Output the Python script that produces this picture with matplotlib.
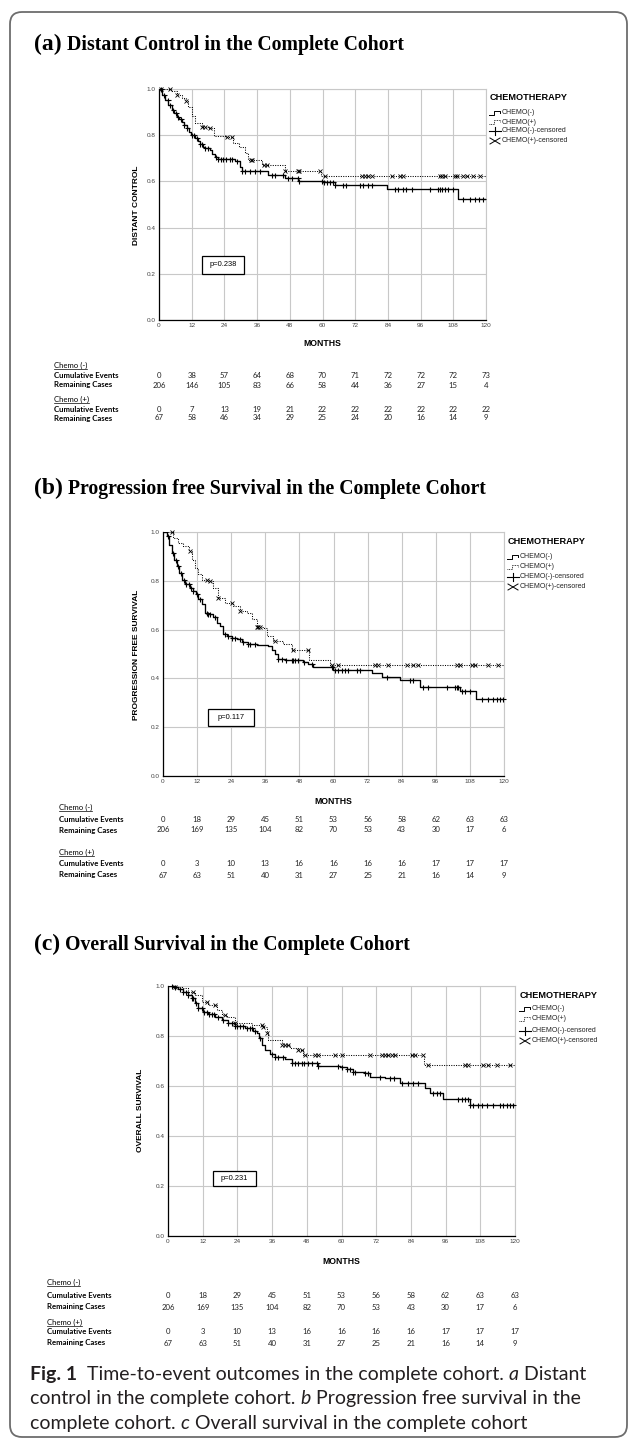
import numpy as np
import matplotlib.pyplot as plt
from matplotlib.patches import FancyBboxPatch, Rectangle
from matplotlib.font_manager import FontProperties
from matplotlib.transforms import blended_transform_factory

W, H = 629, 1441

months = [0, 12, 24, 36, 48, 60, 72, 84, 96, 108, 120]
surv_ticks = [0.0, 0.2, 0.4, 0.6, 0.8, 1.0]

# ---------------------------------------------------------------
# (a) distant control
# ---------------------------------------------------------------
a_neg_t = [0, 1.2, 2.2, 3.4, 4.6, 5.5, 6.5, 7.4, 8.3, 9.2, 10.2, 11.0, 11.7, 13.2, 14.2, 15.0, 16.0,
           16.9, 18.7, 19.6, 20.5, 21.8, 27.9, 29.7, 30.6, 40.1, 46.2, 51.1, 59.9, 64.6, 83.6, 109.8, 120]
a_neg_s = [1.0, 0.975, 0.952, 0.93, 0.909, 0.895, 0.88, 0.868, 0.858, 0.845, 0.83, 0.815, 0.80, 0.789, 0.775,
           0.76, 0.75, 0.743, 0.736, 0.72, 0.707, 0.697, 0.688, 0.664, 0.645, 0.627, 0.613, 0.603, 0.596,
           0.584, 0.565, 0.522, 0.522]
a_pos_t = [0, 4.5, 6.5, 8.5, 9.8, 10.8, 12.0, 13.2, 15.7, 18.1, 20.0, 24.2, 27.3, 29.5, 31.6, 32.8, 37.7,
           46.2, 59.3, 120]
a_pos_s = [1.0, 0.99, 0.975, 0.962, 0.95, 0.923, 0.885, 0.851, 0.837, 0.83, 0.798, 0.793, 0.765, 0.75, 0.721,
           0.692, 0.671, 0.645, 0.625, 0.625]
a_neg_cens = [0.7, 2.0, 3.2, 4.0, 5.3, 6.1, 7.1, 8.1, 9.3, 10.4, 12.0, 13.0, 13.8, 15.0, 15.7, 16.9, 17.9,
              20.9, 21.8, 22.6, 23.6, 24.5, 26.1, 26.9, 28.5, 30.6, 31.6, 33.4, 35.2, 37.1, 41.3, 42.6, 45.6,
              47.5, 48.7, 50.9, 51.4, 59.7, 60.7, 61.5, 62.8, 64.0, 64.6, 67.6, 68.5, 73.8, 75.0, 76.8, 78.0,
              86.6, 87.8, 89.7, 90.5, 92.7, 99.4, 102.3, 103.1, 104.0, 105.0, 105.9, 108.0, 111.7, 114.1,
              116.0, 117.4, 119.0]
a_pos_cens = [0.7, 4.0, 6.5, 9.8, 15.7, 16.9, 18.7, 24.8, 26.9, 33.8, 34.3, 38.7, 39.5, 46.2, 50.9, 51.4,
              59.1, 61.0, 74.4, 75.6, 76.8, 78.0, 85.4, 88.4, 89.7, 103.1, 104.0, 105.0, 108.6, 109.2,
              111.7, 112.9, 115.4, 117.8]
a_neg_events = [0, 38, 57, 64, 68, 70, 71, 72, 72, 72, 73]
a_neg_remaining = [206, 146, 105, 83, 66, 58, 44, 36, 27, 15, 4]
a_pos_events = [0, 7, 13, 19, 21, 22, 22, 22, 22, 22, 22]
a_pos_remaining = [67, 58, 46, 34, 29, 25, 24, 20, 16, 14, 9]

# ---------------------------------------------------------------
# (b) progression free survival
# ---------------------------------------------------------------
b_neg_t = [0, 1.3, 2.2, 3.0, 3.9, 4.8, 5.8, 6.6, 7.7, 9.5, 10.7, 11.6, 12.4, 13.6, 14.8, 16.0, 17.7, 18.9,
           20.1, 21.2, 22.4, 24.2, 25.9, 27.7, 30.0, 33.0, 37.1, 38.2, 39.4, 40.6, 42.9, 49.4, 51.1, 52.7,
           59.9, 73.4, 77.0, 83.4, 90.4, 104.5, 110.1, 120]
b_neg_s = [1.0, 0.982, 0.948, 0.914, 0.887, 0.86, 0.833, 0.805, 0.785, 0.769, 0.758, 0.744, 0.724, 0.703,
           0.669, 0.663, 0.652, 0.629, 0.615, 0.584, 0.574, 0.567, 0.56, 0.551, 0.543, 0.537, 0.533, 0.516,
           0.499, 0.479, 0.475, 0.469, 0.459, 0.448, 0.434, 0.424, 0.407, 0.393, 0.366, 0.347, 0.316, 0.316]
b_pos_t = [0, 3.6, 5.4, 7.2, 9.0, 10.1, 11.3, 12.4, 13.6, 16.0, 17.7, 19.5, 21.8, 24.8, 27.1, 29.4, 31.2,
           33.0, 35.3, 36.5, 38.8, 42.3, 45.3, 51.5, 58.6, 120]
b_pos_s = [1.0, 0.976, 0.955, 0.941, 0.921, 0.887, 0.853, 0.826, 0.805, 0.799, 0.771, 0.731, 0.71, 0.697,
           0.676, 0.669, 0.642, 0.61, 0.608, 0.574, 0.554, 0.54, 0.517, 0.476, 0.456, 0.456]
b_neg_cens = [1.9, 3.6, 4.6, 5.4, 6.2, 7.4, 8.1, 9.3, 9.7, 10.7, 11.9, 13.0, 15.4, 16.0, 16.5, 18.3, 21.8,
              23.0, 24.2, 25.3, 27.1, 28.3, 30.0, 30.6, 32.4, 40.6, 41.8, 43.3, 45.3, 45.9, 46.5, 47.6,
              49.6, 52.3, 59.4, 60.5, 61.7, 62.9, 64.0, 65.2, 68.2, 69.3, 78.7, 86.9, 88.1, 91.6, 93.4,
              99.8, 102.8, 103.3, 103.9, 105.1, 106.3, 108.0, 112.1, 114.5, 116.2, 117.4, 118.6, 119.8]
b_pos_cens = [3.0, 9.5, 15.4, 16.5, 19.5, 24.2, 27.1, 33.0, 33.5, 34.1, 39.4, 45.9, 51.1, 59.4, 61.7,
              74.6, 75.8, 79.3, 85.7, 88.1, 89.9, 103.3, 104.5, 108.6, 109.8, 114.5, 118.0]
b_neg_events = [0, 18, 29, 45, 51, 53, 56, 58, 62, 63, 63]
b_neg_remaining = [206, 169, 135, 104, 82, 70, 53, 43, 30, 17, 6]
b_pos_events = [0, 3, 10, 13, 16, 16, 16, 16, 17, 17, 17]
b_pos_remaining = [67, 63, 51, 40, 31, 27, 25, 21, 16, 14, 9]

# ---------------------------------------------------------------
# (c) overall survival
# ---------------------------------------------------------------
c_neg_t = [0, 1.8, 3.6, 5.3, 7.0, 8.2, 9.3, 10.5, 12.2, 13.9, 16.3, 18.6, 20.9, 23.2, 26.6, 29.5, 30.7,
           31.5, 32.4, 33.5, 35.3, 37.0, 40.5, 42.8, 52.0, 59.5, 61.8, 64.1, 68.1, 69.9, 75.0, 80.2, 88.9,
           90.6, 95.2, 104.4, 120]
c_neg_s = [1.0, 0.995, 0.987, 0.977, 0.964, 0.951, 0.931, 0.911, 0.897, 0.888, 0.877, 0.864, 0.851, 0.84,
           0.831, 0.822, 0.811, 0.791, 0.764, 0.744, 0.728, 0.718, 0.707, 0.691, 0.682, 0.675, 0.667, 0.658,
           0.651, 0.638, 0.631, 0.614, 0.591, 0.571, 0.547, 0.525, 0.525]
c_pos_t = [0, 2.4, 4.7, 7.0, 9.3, 11.6, 13.9, 16.8, 18.6, 20.3, 23.2, 28.9, 32.9, 34.1, 34.7, 39.3, 42.2,
           45.1, 46.8, 88.6, 120]
c_pos_s = [1.0, 0.997, 0.991, 0.977, 0.964, 0.937, 0.924, 0.904, 0.884, 0.877, 0.854, 0.844, 0.838, 0.811,
           0.784, 0.764, 0.751, 0.744, 0.724, 0.684, 0.684]
c_neg_cens = [1.3, 2.4, 4.1, 5.3, 6.1, 7.0, 8.2, 8.8, 9.6, 10.5, 11.6, 12.6, 13.4, 14.2, 15.1, 16.0, 17.4,
              19.1, 20.9, 22.0, 23.2, 23.7, 24.9, 26.1, 27.2, 28.4, 29.2, 30.1, 31.8, 35.9, 37.0, 38.2,
              39.9, 43.0, 43.9, 45.1, 46.2, 47.1, 48.5, 49.7, 51.4, 52.0, 58.9, 60.1, 61.8, 62.9, 64.1,
              64.7, 68.1, 69.3, 73.3, 76.8, 78.0, 80.8, 83.1, 84.8, 86.6, 91.8, 92.9, 94.1, 100.4, 101.6,
              102.7, 103.6, 104.4, 105.6, 107.3, 108.5, 110.2, 112.5, 114.8, 116.0, 117.1, 118.3, 119.4]
c_pos_cens = [2.4, 8.8, 13.4, 16.3, 19.7, 23.2, 32.4, 33.0, 34.1, 39.3, 40.5, 41.6, 45.1, 46.2, 47.4,
              50.8, 52.0, 57.8, 60.1, 69.9, 73.9, 75.0, 76.2, 77.3, 78.5, 84.3, 85.4, 88.3, 90.0, 102.7,
              103.9, 109.0, 110.8, 113.7, 118.3]
c_neg_events = [0, 18, 29, 45, 51, 53, 56, 58, 62, 63, 63]
c_neg_remaining = [206, 169, 135, 104, 82, 70, 53, 43, 30, 17, 6]
c_pos_events = [0, 3, 10, 13, 16, 16, 16, 16, 17, 17, 17]
c_pos_remaining = [67, 63, 51, 40, 31, 27, 25, 21, 16, 14, 9]

panel_titles = ["Distant Control in the Complete Cohort",
                "Progression free Survival in the Complete Cohort",
                "Overall Survival in the Complete Cohort"]
panel_letters = ["(a)", "(b)", "(c)"]
y_labels = ["DISTANT CONTROL", "PROGRESSION FREE SURVIVAL", "OVERALL SURVIVAL"]
p_values = ["p=0.238", "p=0.117", "p=0.231"]
legend_items = ["CHEMO(-)", "CHEMO(+)", "CHEMO(-)-censored", "CHEMO(+)-censored"]

# ---------------------------------------------------------------
# layout in pixels of the 629 x 1441 picture
# ---------------------------------------------------------------
layout = [
    dict(box=(159, 89, 486, 320), title_y=50, ylab=(137, 205), months_y=344,
         legend=(489, 98, [113, 122, 131, 141]), pbox=(202, 256, 42, 18),
         tab_x=54, rows=[365, 376, 385, 399, 409, 418]),
    dict(box=(163, 532, 504, 776), title_y=494, ylab=(137, 655), months_y=801,
         legend=(507, 542, [557, 567, 577, 587]), pbox=(208, 709, 46, 17),
         tab_x=59, rows=[807, 819, 830, 852, 863, 875]),
    dict(box=(168, 986, 515, 1236), title_y=950, ylab=(140, 1110), months_y=1262,
         legend=(519, 995, [1009, 1019, 1031, 1041]), pbox=(213, 1171, 43, 15),
         tab_x=47, rows=[1282, 1295, 1307, 1322, 1332, 1343]),
]

curves = [
    (a_neg_t, a_neg_s, a_pos_t, a_pos_s, a_neg_cens, a_pos_cens,
     a_neg_events, a_neg_remaining, a_pos_events, a_pos_remaining),
    (b_neg_t, b_neg_s, b_pos_t, b_pos_s, b_neg_cens, b_pos_cens,
     b_neg_events, b_neg_remaining, b_pos_events, b_pos_remaining),
    (c_neg_t, c_neg_s, c_pos_t, c_pos_s, c_neg_cens, c_pos_cens,
     c_neg_events, c_neg_remaining, c_pos_events, c_pos_remaining),
]

SANS = "Liberation Sans"
SERIF = "Liberation Serif"
TAB = "Lato"
CAP = "Lato"
INK = "#231f20"


def step_at(times, surv, when):
    # survival value of the step curve at the given censoring times
    idx = np.searchsorted(times, when, side="right") - 1
    return np.asarray(surv)[idx]


def text_w(renderer, s, prop):
    w1, _, _ = renderer.get_text_width_height_descent("|" + s + "|", prop, ismath=False)
    w0, _, _ = renderer.get_text_width_height_descent("||", prop, ismath=False)
    return w1 - w0


fig = plt.figure(figsize=(W / 100, H / 100), dpi=100)
cv = fig.add_axes([0, 0, 1, 1])
cv.set_xlim(0, W)
cv.set_ylim(H, 0)
cv.axis("off")
cv.set_zorder(5)
renderer = fig.canvas.get_renderer()


def put_runs(x, y, parts):
    for txt, prop, color in parts:
        cv.text(x, y, txt, fontproperties=prop, color=color, ha="left", va="baseline")
        x += text_w(renderer, txt, prop)


# outer rounded frame
cv.add_patch(FancyBboxPatch((10, 12), 617, 1425, boxstyle="round,pad=0,rounding_size=12",
                            ec="#6d6d6d", fc="none", lw=1.3))

for k, (lay, cur) in enumerate(zip(layout, curves)):
    neg_t, neg_s, pos_t, pos_s, neg_c, pos_c, neg_ev, neg_rem, pos_ev, pos_rem = cur
    l, t, r, b = lay["box"]
    ax = fig.add_axes([l / W, 1 - b / H, (r - l) / W, (b - t) / H])

    ax.step(neg_t, neg_s, where="post", color="black", lw=0.95, zorder=3)
    ax.step(pos_t, pos_s, where="post", color="black", lw=0.75, ls=(0, (1, 1.3)), zorder=3)
    ax.plot(neg_c, step_at(neg_t, neg_s, neg_c), ls="none", marker="+", ms=3.6, mew=0.8,
            color="black", zorder=4, clip_on=False)
    ax.plot(pos_c, step_at(pos_t, pos_s, pos_c), ls="none", marker="x", ms=2.3, mew=0.6,
            color="black", zorder=4, clip_on=False)

    ax.set_xlim(0, 120)
    ax.set_ylim(0, 1)
    ax.set_xticks(months)
    ax.set_yticks(surv_ticks)
    ax.set_yticklabels(["%.1f" % v for v in surv_ticks])
    ax.tick_params(length=0, pad=2.5, labelsize=4.6, labelcolor="#444444")
    for lab in ax.get_xticklabels() + ax.get_yticklabels():
        lab.set_family(SANS)
    ax.grid(color="#c8c8c8", lw=0.8)
    ax.set_axisbelow(True)
    for side in ["top", "right"]:
        ax.spines[side].set_color("#c8c8c8")
        ax.spines[side].set_linewidth(0.8)
    for side in ["left", "bottom"]:
        ax.spines[side].set_color("black")
        ax.spines[side].set_linewidth(0.9)

    # panel title
    put_runs(34, lay["title_y"], [
        (panel_letters[k], FontProperties(family=SERIF, weight="bold", size=17), "black"),
        (" " + panel_titles[k], FontProperties(family=SERIF, weight="bold", size=14.2), "black"),
    ])

    # axis titles
    cv.text(lay["ylab"][0], lay["ylab"][1], y_labels[k], rotation=90, ha="center", va="center",
            family=SANS, weight="bold", fontsize=6.0)
    mix = blended_transform_factory(ax.transData, cv.transData)
    cv.text(60, lay["months_y"], "MONTHS", transform=mix, ha="center", va="center",
            family=SANS, weight="bold", fontsize=6.2)

    # legend drawn by hand (step-shaped samples as in the original)
    lx, ly, ey = lay["legend"]
    cv.text(lx + 1, ly, "CHEMOTHERAPY", ha="left", va="center", family=SANS, weight="bold",
            fontsize=6.6)
    y0 = ey[0]
    cv.plot([lx, lx + 5, lx + 5, lx + 11, lx + 11], [y0 + 2, y0 + 2, y0 - 2.5, y0 - 2.5, y0],
            color="black", lw=0.7)
    y1 = ey[1]
    cv.plot([lx, lx + 5, lx + 5, lx + 11, lx + 11], [y1 + 2, y1 + 2, y1 - 2.5, y1 - 2.5, y1],
            color="black", lw=0.6, ls=(0, (1, 1)))
    y2 = ey[2]
    cv.plot([lx, lx + 12], [y2, y2], color="black", lw=0.8)
    cv.plot([lx + 6, lx + 6], [y2 - 4, y2 + 4], color="black", lw=0.8)
    y3 = ey[3]
    cv.plot([lx + 1, lx + 11], [y3 - 3, y3 + 3], color="black", lw=0.7)
    cv.plot([lx + 1, lx + 11], [y3 + 3, y3 - 3], color="black", lw=0.7)
    for yy, name in zip(ey, legend_items):
        cv.text(lx + 13, yy, name, ha="left", va="center", family=SANS, fontsize=5.0,
                color="#222222")

    # log-rank p box
    px, py, pw, ph = lay["pbox"]
    cv.add_patch(Rectangle((px, py), pw, ph, fc="white", ec="black", lw=0.9))
    cv.text(px + pw / 2, py + ph / 2, p_values[k], ha="center", va="center", family=SANS,
            fontsize=5.4)

    # numbers at risk table
    rows = lay["rows"]
    tx = lay["tab_x"]
    lab_prop = FontProperties(family=TAB, weight="bold", size=5.6)
    grp_prop = FontProperties(family=TAB, weight="normal", size=5.6)
    table = [("Chemo (-)", None, rows[0]), ("Cumulative Events", neg_ev, rows[1]),
             ("Remaining Cases", neg_rem, rows[2]), ("Chemo (+)", None, rows[3]),
             ("Cumulative Events", pos_ev, rows[4]), ("Remaining Cases", pos_rem, rows[5])]
    for name, vals, yy in table:
        if vals is None:
            cv.text(tx, yy, name, fontproperties=grp_prop, ha="left", va="center", color="black")
            w = text_w(renderer, name, grp_prop)
            cv.plot([tx, tx + w], [yy + 4, yy + 4], color="black", lw=0.5)
        else:
            cv.text(tx, yy, name, fontproperties=lab_prop, ha="left", va="center", color="black")
            for m, v in zip(months, vals):
                cv.text(m, yy, str(v), transform=mix, ha="center", va="center", family=TAB,
                        fontsize=5.6, color="#222222")

# figure caption
cap_reg = FontProperties(family=CAP, weight="normal", size=14)
cap_bold = FontProperties(family=CAP, weight="bold", size=14)
cap_it = FontProperties(family=CAP, style="italic", size=14)
put_runs(30, 1380, [("Fig. 1", cap_bold, INK), ("  Time-to-event outcomes in the complete cohort. ", cap_reg, INK),
                    ("a", cap_it, INK), (" Distant", cap_reg, INK)])
put_runs(30, 1404, [("control in the complete cohort. ", cap_reg, INK), ("b", cap_it, INK),
                    (" Progression free survival in the", cap_reg, INK)])
put_runs(30, 1429, [("complete cohort. ", cap_reg, INK), ("c", cap_it, INK),
                    (" Overall survival in the complete cohort", cap_reg, INK)])

fig.savefig("out.png", dpi=100)
